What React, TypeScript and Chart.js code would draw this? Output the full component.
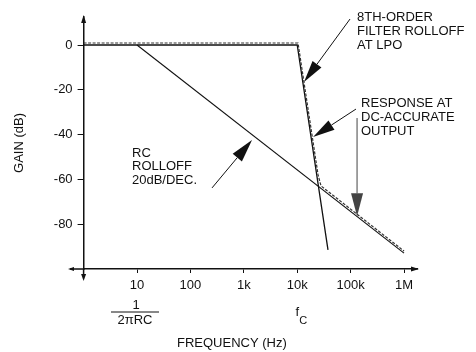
import React, { useEffect, useRef } from "react";
import { Chart, registerables } from "chart.js";
Chart.register(...registerables);

// ---- data ----
const xTickValues = [10, 100, 1000, 10000, 100000, 1000000];
const xTickLabels = ["10", "100", "1k", "10k", "100k", "1M"];
const yTickValues = [0, -20, -40, -60, -80];

const rcFreq = [10, 1000000];
const rcGain = [0, -92.9];

const filterFreq = [1, 10000, 37700];
const filterGain = [0, 0, -91.5];

const responseFreq = [1, 10350, 24600, 27900, 1000000];
const responseGain = [0.9, 0.9, -58, -62.9, -92];

// arrows: [tailFreq, tailGain, tipFreq, tipGain]
const arrowFilter = [97500, 11.6, 13400, -16.5];
const arrowResponse = [126000, -28.6, 19800, -41.1];
const arrowVertical = [132000, -32.6, 132000, -76.5];
const arrowRC = [254, -63.8, 1425, -42.4];

const labelFilter = ["8TH-ORDER", "FILTER ROLLOFF", "AT LPO"];
const labelResponse = ["RESPONSE AT", "DC-ACCURATE", "OUTPUT"];
const labelRC = ["RC", "ROLLOFF", "20dB/DEC."];

const FAMILY = '"Liberation Sans", Arial, Helvetica, sans-serif';
const INK = "#111";

function pts(xs: number[], ys: number[]) {
  return xs.map((x, i) => ({ x, y: ys[i] }));
}

function drawArrow(
  ctx: CanvasRenderingContext2D,
  x1: number, y1: number, x2: number, y2: number,
  headLen: number, headHalf: number, color: string, lw: number
) {
  const a = Math.atan2(y2 - y1, x2 - x1);
  const bx = x2 - headLen * Math.cos(a);
  const by = y2 - headLen * Math.sin(a);
  ctx.strokeStyle = color;
  ctx.lineWidth = lw;
  ctx.beginPath();
  ctx.moveTo(x1, y1);
  ctx.lineTo(bx, by);
  ctx.stroke();
  ctx.fillStyle = color;
  ctx.beginPath();
  ctx.moveTo(x2, y2);
  ctx.lineTo(bx + headHalf * Math.sin(a), by - headHalf * Math.cos(a));
  ctx.lineTo(bx - headHalf * Math.sin(a), by + headHalf * Math.cos(a));
  ctx.closePath();
  ctx.fill();
}

const overlay = {
  id: "overlay",
  afterDraw(chart: any) {
    const ctx: CanvasRenderingContext2D = chart.ctx;
    const xs = chart.scales.x;
    const ys = chart.scales.y;
    const { left, right, top, bottom } = chart.chartArea;
    ctx.save();

    // axis extensions and arrowheads
    ctx.strokeStyle = INK;
    ctx.fillStyle = INK;
    ctx.lineWidth = 1.5;
    ctx.beginPath();
    ctx.moveTo(70, bottom);
    ctx.lineTo(left, bottom);
    ctx.moveTo(left, bottom);
    ctx.lineTo(left, bottom + 8);
    ctx.stroke();
    // up arrow
    ctx.beginPath();
    ctx.moveTo(left, top - 2);
    ctx.lineTo(left - 2.5, top + 6);
    ctx.lineTo(left + 2.5, top + 6);
    ctx.closePath();
    ctx.fill();
    // down arrow
    ctx.beginPath();
    ctx.moveTo(left, bottom + 12);
    ctx.lineTo(left - 2.5, bottom + 5);
    ctx.lineTo(left + 2.5, bottom + 5);
    ctx.closePath();
    ctx.fill();
    // right arrow
    ctx.beginPath();
    ctx.moveTo(right + 2, bottom);
    ctx.lineTo(right - 6, bottom - 2.5);
    ctx.lineTo(right - 6, bottom + 2.5);
    ctx.closePath();
    ctx.fill();
    // left arrow
    ctx.beginPath();
    ctx.moveTo(68, bottom);
    ctx.lineTo(74, bottom - 2);
    ctx.lineTo(74, bottom + 2);
    ctx.closePath();
    ctx.fill();

    // annotation arrows
    const arr = (a: number[], color: string, hl: number, hh: number) =>
      drawArrow(
        ctx,
        xs.getPixelForValue(a[0]), ys.getPixelForValue(a[1]),
        xs.getPixelForValue(a[2]), ys.getPixelForValue(a[3]),
        hl, hh, color, 1
      );
    arr(arrowFilter, INK, 22, 5.5);
    arr(arrowResponse, INK, 22, 5.5);
    arr(arrowVertical, "#444", 23, 6);
    arr(arrowRC, INK, 23, 6);

    // text labels
    ctx.fillStyle = INK;
    ctx.font = `13px ${FAMILY}`;
    ctx.textAlign = "left";
    ctx.textBaseline = "middle";
    labelFilter.forEach((t, i) => ctx.fillText(t, 357, 17 + i * 14));
    labelResponse.forEach((t, i) => ctx.fillText(t, 361, 103 + i * 14));
    labelRC.forEach((t, i) => ctx.fillText(t, 132, 153 + i * 13.5));

    // x title
    ctx.fillText("FREQUENCY (Hz)", 177, 343);

    // 1/(2πRC) under 10
    const x10 = xs.getPixelForValue(10) - 2;
    ctx.textAlign = "center";
    ctx.fillText("1", x10 + 1, 305);
    ctx.fillText("2πRC", x10, 320);
    ctx.lineWidth = 1;
    ctx.beginPath();
    ctx.moveTo(x10 - 24, 312);
    ctx.lineTo(x10 + 24, 312);
    ctx.stroke();

    // f_C under 10k
    const x10k = xs.getPixelForValue(10000);
    ctx.fillText("f", x10k, 312);
    ctx.font = `11px ${FAMILY}`;
    ctx.fillText("C", x10k + 6, 321);

    ctx.restore();
  },
};

export default function App() {
  const ref = useRef<HTMLCanvasElement | null>(null);
  useEffect(() => {
    if (!ref.current) return;
    Chart.defaults.font.family = FAMILY;
    Chart.defaults.font.size = 13;
    Chart.defaults.color = INK;
    const chart = new Chart(ref.current, {
      type: "scatter",
      data: {
        datasets: [
          {
            label: "response",
            data: pts(responseFreq, responseGain),
            showLine: true,
            borderColor: "#333",
            borderWidth: 1.2,
            borderDash: [3, 1.5],
            pointRadius: 0,
            fill: false,
          },
          {
            label: "filter",
            data: pts(filterFreq, filterGain),
            showLine: true,
            borderColor: INK,
            borderWidth: 1.3,
            pointRadius: 0,
            fill: false,
          },
          {
            label: "rc",
            data: pts(rcFreq, rcGain),
            showLine: true,
            borderColor: INK,
            borderWidth: 1.1,
            pointRadius: 0,
            fill: false,
          },
        ],
      },
      options: {
        animation: false,
        responsive: false,
        maintainAspectRatio: false,
        layout: { padding: { top: 17, right: 59, left: 0, bottom: 0 } },
        plugins: {
          legend: { display: false },
          tooltip: { enabled: false },
        },
        scales: {
          x: {
            type: "logarithmic",
            min: 1,
            max: 1750000,
            afterBuildTicks: (s: any) => {
              s.ticks = xTickValues.map((v) => ({ value: v }));
            },
            afterFit: (s: any) => {
              s.height = 83;
            },
            ticks: {
              autoSkip: false,
              maxRotation: 0,
              padding: 5,
              color: INK,
              font: { size: 13, family: FAMILY },
              callback: (v: any) => {
                const i = xTickValues.indexOf(Number(v));
                return i >= 0 ? xTickLabels[i] : "";
              },
            },
            grid: {
              display: true,
              drawOnChartArea: false,
              drawTicks: true,
              tickLength: 4,
              tickColor: INK,
              tickWidth: 1,
            },
            border: { display: true, color: INK, width: 1.5 },
            title: { display: false },
          },
          y: {
            type: "linear",
            min: -100,
            max: 12.5,
            afterBuildTicks: (s: any) => {
              s.ticks = yTickValues.map((v) => ({ value: v }));
            },
            afterFit: (s: any) => {
              s.width = 83.6;
            },
            ticks: {
              padding: 5,
              color: INK,
              font: { size: 13, family: FAMILY },
              callback: (v: any) => String(v),
            },
            grid: {
              display: true,
              drawOnChartArea: false,
              drawTicks: true,
              tickLength: 6,
              tickColor: INK,
              tickWidth: 1,
            },
            border: { display: true, color: INK, width: 1.5 },
            title: {
              display: true,
              text: "GAIN (dB)",
              color: INK,
              font: { size: 13, family: FAMILY },
              padding: { top: 12, bottom: 0 },
            },
          },
        },
      },
      plugins: [overlay],
    } as any);
    return () => chart.destroy();
  }, []);
  return (
    <div style={{ position: "fixed", left: 0, top: 0, width: 476, height: 352, background: "#fff" }}>
      <canvas ref={ref} width={476} height={352} style={{ display: "block", width: 476, height: 352 }} />
    </div>
  );
}
